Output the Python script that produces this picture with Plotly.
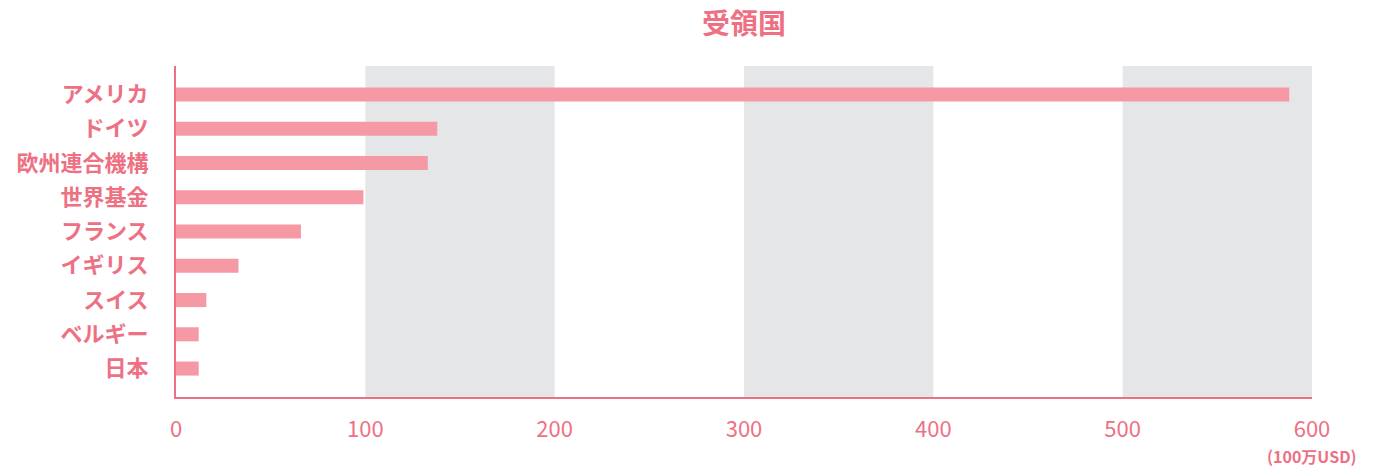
import plotly.graph_objects as go

categories = ["アメリカ", "ドイツ", "欧州連合機構", "世界基金", "フランス", "イギリス", "スイス", "ベルギー", "日本"]
values = [588, 138, 133, 99, 66, 33, 16, 12, 12]
tick_vals = [0, 100, 200, 300, 400, 500, 600]
tick_text = ["0", "100", "200", "300", "400", "500", "600"]
band_starts = [100, 300, 500]
band_width = 100

BAR = "#f59aa4"
AXIS = "#ef6f82"
TEXT = "#ee7083"
GREY = "#e5e6e8"
FONT = "Noto Sans CJK JP"

W, H = 1367, 459

fig = go.Figure()
fig.add_trace(go.Bar(
    x=values, y=categories, orientation="h",
    marker=dict(color=BAR, line=dict(width=0)),
    width=0.41, hoverinfo="x+y",
))

shapes = []
for s in band_starts:
    shapes.append(dict(type="rect", xref="x", yref="paper", x0=s, x1=s + band_width,
                       y0=0, y1=1, fillcolor=GREY, line=dict(width=0), layer="below"))

fig.update_layout(
    width=W, height=H,
    margin=dict(l=168, r=63, t=58, b=70, autoexpand=False),
    paper_bgcolor="white", plot_bgcolor="white",
    showlegend=False,
    shapes=shapes,
    font=dict(family=FONT, color=TEXT),
    title=dict(text="受領国", x=0.5, xref="paper", xanchor="center",
               y=1 - 16 / H, yanchor="middle",
               font=dict(family=FONT, size=28, color=TEXT, weight="bold")),
    xaxis=dict(range=[0, 600], tickvals=tick_vals, ticktext=tick_text,
               showgrid=False, zeroline=False, showline=True, linecolor=AXIS, linewidth=2,
               ticks="", ticklabelstandoff=12, automargin=False,
               tickfont=dict(family=FONT, size=22, color=TEXT)),
    yaxis=dict(categoryorder="array", categoryarray=categories,
               range=[8.83, -0.83], showgrid=False, zeroline=False,
               showline=True, linecolor=AXIS, linewidth=2,
               ticks="", ticklabelstandoff=21, automargin=False,
               tickfont=dict(family=FONT, size=22, color=TEXT, weight="bold")),
    annotations=[dict(text="(100万USD)", xref="x", yref="paper", x=600, y=0,
                      yshift=-59, xanchor="center", yanchor="middle", showarrow=False,
                      font=dict(family=FONT, size=16, color=TEXT, weight="bold"))],
)

fig.write_html("out.html")
